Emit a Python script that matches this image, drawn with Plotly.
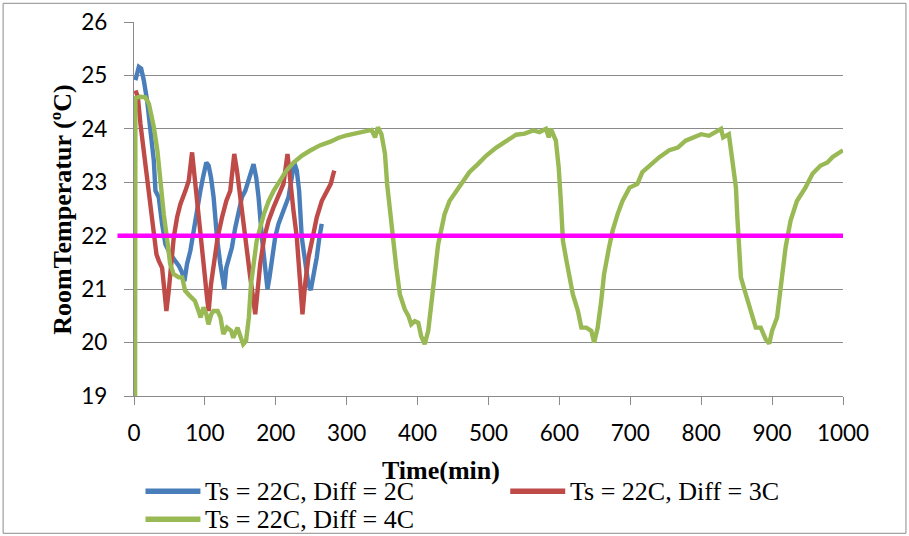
import plotly.graph_objects as go

# ---------------- data ----------------
blue_t = [2.1, 6.8, 10.1, 13.8, 18.5, 23.2, 27.9, 30.3, 34.9, 39.6, 44.3, 51.4, 58.4, 63.1, 67.8, 71.1,
          74.8, 79.5, 84.2, 88.9, 93.6, 97.3, 102.0, 105.3, 108.6, 112.3, 117.0, 121.7, 127.4, 130.2,
          133.4, 138.1, 142.8, 147.5, 152.2, 156.9, 161.6, 168.6, 172.4, 175.7, 180.4, 185.0, 188.3,
          191.1, 194.4, 199.1, 203.8, 210.8, 217.9, 222.6, 225.9, 229.6, 232.9, 236.6, 241.3, 246.0,
          249.3, 253.0, 257.7, 261.5, 264.8]
blue_T = [24.91, 25.16, 25.13, 24.91, 24.53, 24.03, 23.41, 22.84, 22.72, 22.22, 21.84, 21.65, 21.53,
          21.44, 21.31, 21.15, 21.47, 21.72, 22.09, 22.53, 22.84, 23.09, 23.37, 23.31, 23.09, 22.72,
          21.97, 21.47, 21.00, 21.40, 21.53, 21.78, 22.15, 22.47, 22.72, 22.84, 23.03, 23.34, 23.09,
          22.72, 21.97, 21.34, 21.00, 21.22, 21.59, 21.97, 22.22, 22.47, 22.72, 23.09, 23.37, 23.22,
          22.84, 21.97, 21.47, 21.09, 20.98, 21.22, 21.59, 21.97, 22.22]

red_t = [2.1, 5.4, 9.1, 13.8, 18.5, 23.2, 27.9, 31.7, 35.0, 39.6, 42.9, 45.7, 49.0, 52.3, 56.1, 60.7,
         65.4, 72.5, 77.2, 81.9, 85.2, 89.8, 94.5, 99.2, 103.0, 105.3, 108.6, 113.3, 118.0, 124.1,
         130.2, 135.8, 141.4, 145.2, 150.8, 156.9, 164.0, 168.6, 171.0, 174.3, 178.0, 183.7, 189.8,
         196.8, 205.2, 210.8, 216.5, 220.2, 224.9, 229.6, 234.3, 237.6, 241.3, 246.0, 252.1, 257.7,
         264.8, 271.9, 277.5, 281.2, 282.5]
red_T = [24.72, 24.60, 24.09, 23.59, 23.09, 22.59, 22.09, 21.65, 21.53, 21.40, 20.97, 20.59, 20.97,
         21.40, 21.97, 22.34, 22.59, 22.84, 23.03, 23.56, 23.16, 22.65, 21.97, 21.34, 20.84, 20.59,
         21.09, 21.59, 21.97, 22.34, 22.65, 22.84, 23.53, 23.22, 22.59, 21.97, 21.22, 20.78, 20.53,
         20.97, 21.47, 21.97, 22.28, 22.53, 22.78, 22.97, 23.53, 23.03, 22.47, 21.97, 21.09, 20.53,
         21.09, 21.59, 21.97, 22.34, 22.65, 22.84, 22.97, 23.16, 23.22]

green_t = [1.5, 2, 9, 16, 21, 28, 33, 37, 42, 47, 51, 56, 63, 68, 72, 79, 86, 91, 94, 98, 102, 105,
           109, 112, 118, 122, 126, 131, 137, 140, 146, 150, 154, 158, 162, 165, 169, 173, 178, 183,
           190, 197, 206, 215, 225, 237, 248, 262, 277, 288, 300, 314, 323, 335, 340, 344, 349, 354,
           357, 361, 365, 370, 375, 382, 387, 391, 396, 401, 405, 410, 415, 420, 424, 429, 434, 438,
           445, 455, 464, 473, 485, 497, 511, 525, 539, 551, 563, 572, 581, 585, 588, 595, 599, 602,
           605, 610, 614, 619, 626, 631, 638, 645, 649, 654, 659, 663, 670, 675, 682, 689, 699, 710,
           717, 729, 741, 755, 767, 778, 790, 800, 811, 821, 828, 831, 839, 844, 849, 851, 853, 856,
           863, 867, 872, 877, 884, 891, 896, 900, 907, 912, 919, 926, 935, 947, 957, 968, 978, 985,
           994, 1000]
green_T = [19.0, 24.58, 24.60, 24.59, 24.47, 24.03, 23.59, 22.97, 22.40, 21.90, 21.47, 21.28, 21.22,
           21.22, 20.97, 20.87, 20.78, 20.59, 20.47, 20.66, 20.53, 20.34, 20.53, 20.59, 20.59, 20.47,
           20.16, 20.28, 20.22, 20.09, 20.28, 20.12, 19.97, 20.03, 20.47, 21.09, 21.59, 21.90, 22.15,
           22.40, 22.65, 22.84, 23.03, 23.22, 23.37, 23.50, 23.59, 23.69, 23.76, 23.83, 23.88, 23.92,
           23.96, 23.98, 23.84, 24.03, 23.90, 23.53, 22.97, 22.47, 21.90, 21.40, 20.90, 20.62, 20.50,
           20.34, 20.40, 20.37, 20.12, 19.97, 20.22, 20.84, 21.40, 21.84, 22.15, 22.40, 22.65, 22.84,
           23.03, 23.19, 23.34, 23.50, 23.65, 23.78, 23.89, 23.91, 23.97, 23.94, 24.00, 23.84, 24.00,
           23.78, 23.28, 22.65, 21.90, 21.53, 21.20, 20.90, 20.60, 20.28, 20.28, 20.22, 20.00, 20.28,
           20.78, 21.28, 21.78, 22.09, 22.40, 22.65, 22.90, 22.97, 23.19, 23.34, 23.47, 23.60, 23.65,
           23.78, 23.84, 23.90, 23.87, 23.94, 24.00, 23.84, 23.90, 23.40, 22.90, 22.34, 21.84, 21.22,
           20.90, 20.72, 20.47, 20.28, 20.28, 20.06, 19.98, 20.22, 20.47, 21.09, 21.78, 22.28, 22.65,
           22.90, 23.16, 23.31, 23.37, 23.47, 23.56, 23.60]

setpoint = 22
x_ticks = [0, 100, 200, 300, 400, 500, 600, 700, 800, 900, 1000]
y_ticks = [19, 20, 21, 22, 23, 24, 25, 26]

series_names = ["Ts = 22C, Diff = 2C", "Ts = 22C, Diff = 3C", "Ts = 22C, Diff = 4C"]
series_colors = ["#4A7EBB", "#BE4B48", "#98B954"]
series_x = [blue_t, red_t, green_t]
series_y = [blue_T, red_T, green_T]

# ---------------- figure ----------------
fig = go.Figure()
for xs, ys, name, col in zip(series_x, series_y, series_names, series_colors):
    fig.add_trace(go.Scatter(x=xs, y=ys, mode="lines", name=name,
                             line=dict(color=col, width=4.4), showlegend=False))

GRID = "#8a8a8a"
tick_font = dict(family="Lato", size=22.5, color="black")
serif = "Liberation Serif"

fig.update_layout(
    width=909, height=536,
    margin=dict(l=133.5, r=66, t=21.7, b=140.3, autoexpand=False),
    paper_bgcolor="white", plot_bgcolor="white",
    showlegend=False,
    xaxis=dict(range=[0, 1000], tickmode="array", tickvals=x_ticks, ticks="outside", ticklen=8,
               tickcolor=GRID, tickwidth=1.3, showline=True, linecolor=GRID, linewidth=1.3,
               showgrid=False, zeroline=False, tickfont=tick_font, ticklabelstandoff=9,
               automargin=False),
    yaxis=dict(range=[19, 26], tickmode="array", tickvals=y_ticks, ticks="outside", ticklen=9,
               tickcolor=GRID, tickwidth=1.3, showline=True, linecolor=GRID, linewidth=1.3,
               showgrid=True, gridcolor=GRID, gridwidth=1.3, zeroline=False, tickfont=tick_font,
               ticklabelstandoff=12, automargin=False),
)

# setpoint line (extends slightly left of the axis as in the original)
fig.add_shape(type="line", xref="paper", yref="y", x0=-0.0233, x1=1.0, y0=setpoint, y1=setpoint,
              line=dict(color="#FF00FF", width=4.5), layer="above")

# axis titles
fig.add_annotation(text="<b>Time(min)</b>", xref="paper", yref="paper", x=0.4334, y=-0.1987,
                   xanchor="center", yanchor="middle", showarrow=False,
                   font=dict(family=serif, size=26, color="black"))
fig.add_annotation(text="<b>RoomTemperatur (ºC)</b>", xref="paper", yref="paper", x=-0.1008, y=0.4992,
                   xanchor="center", yanchor="middle", showarrow=False, textangle=-90,
                   font=dict(family=serif, size=26, color="black"))

# legend (drawn manually to match the long line samples)
leg_pos = [(0.0162, -0.2548), (0.5307, -0.2548), (0.0162, -0.3297)]
for (lx, ly), name, col in zip(leg_pos, series_names, series_colors):
    fig.add_shape(type="line", xref="paper", yref="paper", x0=lx, x1=lx + 0.0775, y0=ly, y1=ly,
                  line=dict(color=col, width=5.5))
    fig.add_annotation(text=name, xref="paper", yref="paper", x=lx + 0.0818, y=ly,
                       xanchor="left", yanchor="middle", showarrow=False,
                       font=dict(family=serif, size=26, color="black"))

# outer chart border
fig.add_shape(type="rect", xref="paper", yref="paper", x0=-0.1846, x1=1.0888, y0=-0.3671, y1=1.05,
              line=dict(color="#8c8c8c", width=1), layer="below")

fig.write_html("out.html", config={"displayModeBar": False},
               post_script="document.body.style.margin='0px';document.documentElement.style.overflow='hidden';")
